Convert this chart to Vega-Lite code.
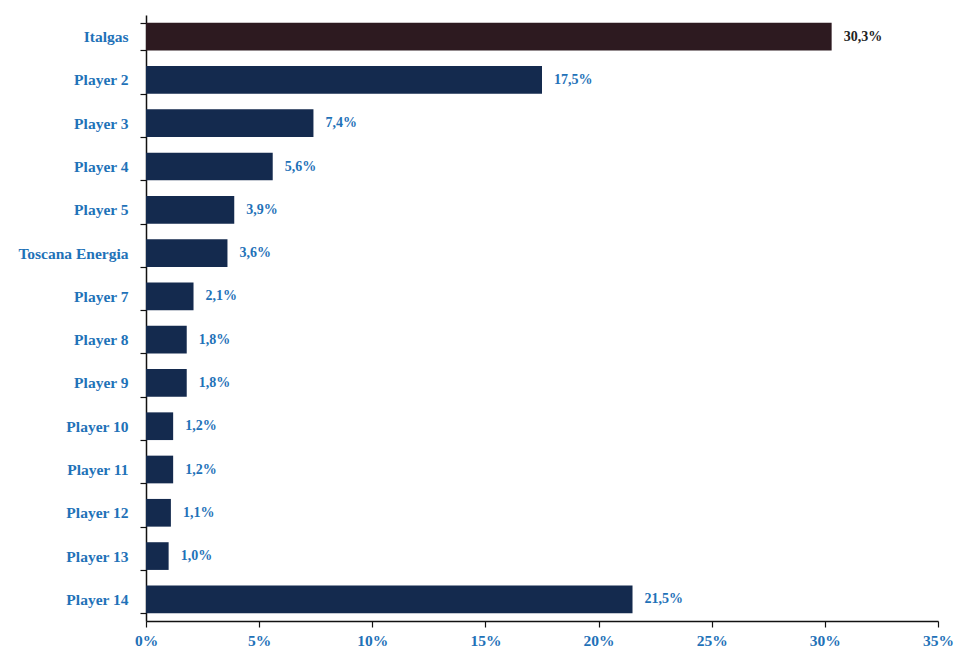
{
  "$schema": "https://vega.github.io/schema/vega-lite/v6.json",
  "width": 792,
  "height": 606,
  "autosize": {"type": "none"},
  "padding": {"left": 146, "top": 15, "right": 16, "bottom": 29},
  "background": "white",
  "config": {
    "locale": {"number": {"decimal": ",", "thousands": ".", "grouping": [3], "currency": ["€", ""]}},
    "view": {"stroke": null},
    "axis": {"labelFont": "Liberation Serif", "labelFontWeight": "bold", "labelColor": "#1f72b8", "labelFontSize": 15.5, "domainColor": "#111", "tickColor": "#111", "domainWidth": 1.5, "tickWidth": 1.2, "grid": false, "title": null}
  },
  "data": {"values": [
    {"player": "Italgas", "share": 0.303},
    {"player": "Player 2", "share": 0.175},
    {"player": "Player 3", "share": 0.074},
    {"player": "Player 4", "share": 0.056},
    {"player": "Player 5", "share": 0.039},
    {"player": "Toscana Energia", "share": 0.036},
    {"player": "Player 7", "share": 0.021},
    {"player": "Player 8", "share": 0.018},
    {"player": "Player 9", "share": 0.018},
    {"player": "Player 10", "share": 0.012},
    {"player": "Player 11", "share": 0.012},
    {"player": "Player 12", "share": 0.011},
    {"player": "Player 13", "share": 0.010},
    {"player": "Player 14", "share": 0.215}
  ]},
  "encoding": {
    "y": {"field": "player", "type": "nominal", "sort": null,
      "scale": {"paddingInner": 0.36, "paddingOuter": 0.18},
      "axis": {"tickBand": "extent", "tickSize": 6, "labelPadding": 12}},
    "x": {"field": "share", "type": "quantitative",
      "scale": {"domain": [0, 0.35]},
      "axis": {"format": ".0%", "values": [0, 0.05, 0.1, 0.15, 0.2, 0.25, 0.3, 0.35], "tickSize": 6, "labelPadding": 6, "labelFlush": false}}
  },
  "layer": [
    {"mark": {"type": "bar"},
      "encoding": {"color": {"condition": {"test": "datum.player === 'Italgas'", "value": "#2d1a20"}, "value": "#142a4e"}}},
    {"mark": {"type": "text", "align": "left", "dx": 12, "font": "Liberation Serif", "fontWeight": "bold", "fontSize": 14},
      "encoding": {
        "text": {"field": "share", "type": "quantitative", "format": ".1%"},
        "color": {"condition": {"test": "datum.player === 'Italgas'", "value": "#222222"}, "value": "#1f72b8"}}}
  ]
}
